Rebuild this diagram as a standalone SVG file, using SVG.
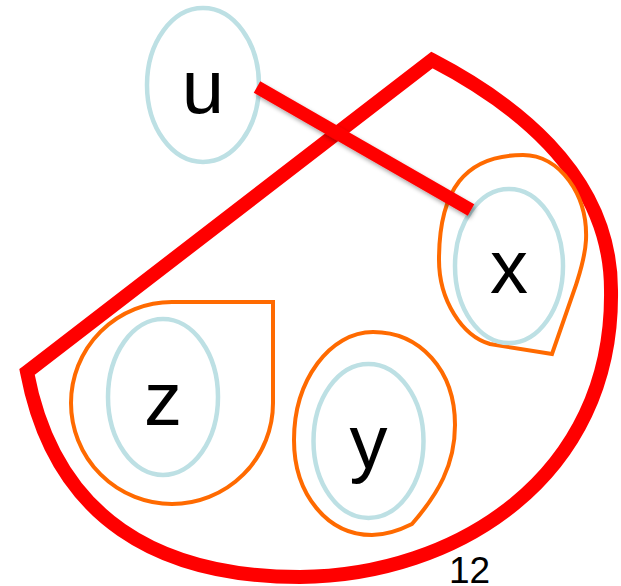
<svg xmlns="http://www.w3.org/2000/svg" width="621" height="586" viewBox="0 0 621 586">
<style>
.node{fill:none;stroke:#bde0e4;stroke-width:4.5}
.hull{fill:none;stroke:#ff6a00;stroke-width:4;stroke-linejoin:miter}
.outer{fill:none;stroke:#ff0000;stroke-width:14;stroke-linejoin:miter}
.lbl{font-family:"Liberation Sans",Arial,sans-serif;font-size:76px;fill:#000;text-anchor:middle}
.num{font-family:"Liberation Sans",Arial,sans-serif;font-size:37px;fill:#000}
.edge{stroke:#ff0000;stroke-width:13;fill:none}
</style>
<defs>
<filter id="shadow" x="-20%" y="-20%" width="140%" height="160%">
<feDropShadow dx="2" dy="3" stdDeviation="2" flood-color="#000" flood-opacity="0.35"/>
</filter>
</defs>
<rect width="621" height="586" fill="#fff"/>
<g id="outer-hull">
<path class="outer" d="M 27,372 L 432,60 C 505,98 611,170 611,290 C 614,478 455,576 300,577 C 160,577 55,520 27,372 Z"/>
</g>
<g id="group-z">
<path class="hull" d="M 172,302 L 273,302 L 273,403 A 101 101 0 1 1 172,302 Z"/>
</g>
<g id="group-y">
<path class="hull" d="M 373,332 C 420,332 455,370 455,425 C 455,465 438,494 412,524 C 400,530 388,535 372,535 C 328,535 294,495 294,440 C 294,380 330,332 373,332 Z"/>
</g>
<g id="group-x">
<path class="hull" d="M 523,155 C 560,155 588,195 586,240 C 585,258 580,272 576,285 L 552,354 L 490,344 C 462,336 439,300 439,260 C 439,190 465,155 523,155 Z"/>
</g>
<g id="node-u">
<ellipse class="node" cx="203" cy="85" rx="56" ry="77"/>
<text class="lbl" x="203" y="113">u</text>
</g>
<g id="node-x">
<ellipse class="node" cx="509" cy="266" rx="54" ry="77"/>
<text class="lbl" x="509" y="293">x</text>
</g>
<g id="node-z">
<ellipse class="node" cx="163" cy="397" rx="55" ry="78"/>
<text class="lbl" x="163" y="425">z</text>
</g>
<g id="node-y">
<ellipse class="node" cx="368.5" cy="441" rx="55" ry="77"/>
<text class="lbl" x="368.5" y="468">y</text>
</g>
<g id="connectors">
<line class="edge" x1="257" y1="87" x2="471" y2="210" filter="url(#shadow)"/>
</g>
<text class="num" x="449" y="583">12</text>
</svg>
